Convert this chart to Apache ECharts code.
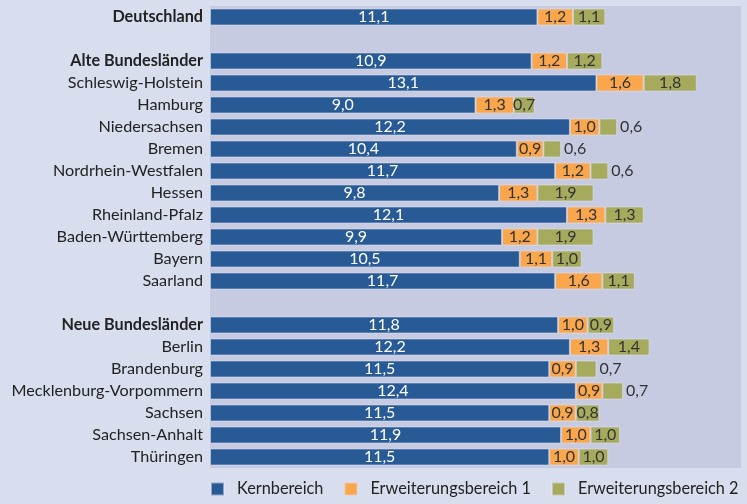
<!DOCTYPE html>
<html>
<head>
    <meta charset="utf-8">
    <title></title>
    <script src="https://cdn.jsdelivr.net/npm/echarts@6.0.0/dist/echarts.min.js"></script>
</head>
<body style="margin:0;background:#d9deee;">
<div id="main" style="width:747px;height:504px;"></div>
<script type="text/javascript">
    // Zeilen von oben nach unten, leere Zeilen als Abstand
    var laender = ["Deutschland", " ", "Alte Bundesländer", "Schleswig-Holstein", "Hamburg", "Niedersachsen",
        "Bremen", "Nordrhein-Westfalen", "Hessen", "Rheinland-Pfalz", "Baden-Württemberg", "Bayern", "Saarland",
        "  ", "Neue Bundesländer", "Berlin", "Brandenburg", "Mecklenburg-Vorpommern", "Sachsen",
        "Sachsen-Anhalt", "Thüringen"];
    var kern = [11.1, null, 10.9, 13.1, 9.0, 12.2, 10.4, 11.7, 9.8, 12.1, 9.9, 10.5, 11.7,
        null, 11.8, 12.2, 11.5, 12.4, 11.5, 11.9, 11.5];
    var erw1 = [1.2, null, 1.2, 1.6, 1.3, 1.0, 0.9, 1.2, 1.3, 1.3, 1.2, 1.1, 1.6,
        null, 1.0, 1.3, 0.9, 0.9, 0.9, 1.0, 1.0];
    var erw2 = [1.1, null, 1.2, 1.8, 0.7, 0.6, 0.6, 0.6, 1.9, 1.3, 1.9, 1.0, 1.1,
        null, 0.9, 1.4, 0.7, 0.7, 0.8, 1.0, 1.0];
    var fett = ["Deutschland", "Alte Bundesländer", "Neue Bundesländer"];
    var aussen = ["Niedersachsen", "Bremen", "Nordrhein-Westfalen", "Brandenburg", "Mecklenburg-Vorpommern"];

    var schrift = "Lato";
    function komma(p) {
        return p.value == null ? "" : p.value.toFixed(1).replace(".", ",");
    }

    var erw2Daten = erw2.map(function (v, i) {
        if (aussen.indexOf(laender[i]) >= 0) {
            return { value: v, label: { position: "right", distance: 3 } };
        }
        return v;
    });

    var balken = { borderColor: "rgba(225,230,245,0.55)", borderWidth: 1 };

    var myChart = echarts.init(document.getElementById("main"));
    myChart.setOption({
        backgroundColor: "#d9deee",
        textStyle: { fontFamily: schrift },
        grid: {
            left: 210, right: 6, top: 6, bottom: 36,
            show: true, backgroundColor: "#c6cbe1", borderWidth: 0
        },
        legend: {
            left: 205, bottom: 2, width: 560, padding: [5, 0, 5, 5],
            itemWidth: 13, itemHeight: 13, itemGap: 20,
            icon: "rect",
            textStyle: { fontSize: 16.3, color: "#222", fontFamily: schrift, padding: [0, 0, 0, 8] },
            data: ["Kernbereich", "Erweiterungsbereich 1", "Erweiterungsbereich 2"]
        },
        xAxis: {
            type: "value", min: 0, max: 18,
            show: false
        },
        yAxis: {
            type: "category",
            data: laender,
            inverse: true,
            axisLine: { show: false },
            axisTick: { show: false },
            axisLabel: {
                margin: 7,
                fontSize: 16.2,
                color: "#222",
                formatter: function (v) {
                    return fett.indexOf(v) >= 0 ? "{b|" + v + "}" : v;
                },
                rich: { b: { fontWeight: "bold", fontSize: 16.2, color: "#222" } }
            }
        },
        series: [
            {
                name: "Kernbereich", type: "bar", stack: "s", barWidth: 17,
                itemStyle: Object.assign({ color: "#285a96" }, balken),
                label: { show: true, position: "inside", color: "#fff", fontSize: 16, formatter: komma },
                data: kern
            },
            {
                name: "Erweiterungsbereich 1", type: "bar", stack: "s", barWidth: 17,
                itemStyle: Object.assign({ color: "#f9a64c" }, balken),
                label: { show: true, position: "inside", color: "#333", fontSize: 16, formatter: komma },
                data: erw1
            },
            {
                name: "Erweiterungsbereich 2", type: "bar", stack: "s", barWidth: 17,
                itemStyle: Object.assign({ color: "#a5aa5c" }, balken),
                label: { show: true, position: "inside", color: "#333", fontSize: 16, formatter: komma },
                data: erw2Daten
            }
        ]
    });
</script>
</body>
</html>
